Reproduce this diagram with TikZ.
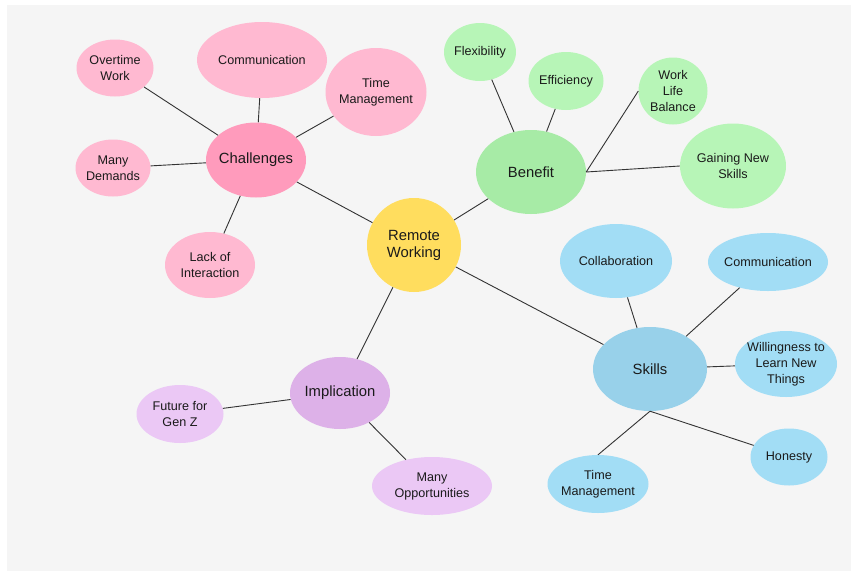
\documentclass[tikz,border=0pt]{standalone}
\usepackage{fontspec}
\setmainfont{Liberation Sans}
\usetikzlibrary{shapes.geometric}
\definecolor{bgc}{HTML}{F5F5F5}
\definecolor{yel}{HTML}{FFDD5E}
\definecolor{pinkC}{HTML}{FF9BBC}
\definecolor{pinkL}{HTML}{FFB9D1}
\definecolor{greenC}{HTML}{A7EBA6}
\definecolor{greenL}{HTML}{B7F5B7}
\definecolor{blueC}{HTML}{98D1EA}
\definecolor{blueL}{HTML}{A2DDF5}
\definecolor{purpC}{HTML}{DDB1E8}
\definecolor{purpL}{HTML}{EBC8F5}
\definecolor{txt}{HTML}{1A1A1A}
\definecolor{lnc}{HTML}{333333}
\tikzset{
  bub/.style={ellipse, draw=none, inner sep=0pt},
  leaftxt/.style={align=center, text=txt, font=\fontsize{12.6}{16}\selectfont},
  hubtxt/.style={align=center, text=txt, font=\fontsize{14.8}{17}\selectfont},
  conn/.style={draw=lnc, line width=0.9pt},
}
\begin{document}
\begin{tikzpicture}[x=1pt,y=-1pt]
\useasboundingbox (0,0) rectangle (851,571);
\fill[white] (0,0) rectangle (851,571);
\fill[bgc] (7,5) rectangle (851,571);

% hubs
\node[bub, fill=yel, minimum width=94, minimum height=94, label={[hubtxt]center:Remote\\Working}] (rw) at (414,245) {};
\node[bub, fill=pinkC, minimum width=100, minimum height=75, label={[hubtxt]center:Challenges}] (ch) at (256,160) {};
\node[bub, fill=greenC, minimum width=110, minimum height=84, label={[hubtxt]center:Benefit}] (be) at (531,172) {};
\node[bub, fill=blueC, minimum width=114, minimum height=84, label={[hubtxt]center:Skills}] (sk) at (650,369) {};
\node[bub, fill=purpC, minimum width=100, minimum height=72, label={[hubtxt]center:Implication}] (im) at (340,393) {};

% challenges leaves
\node[bub, fill=pinkL, minimum width=77, minimum height=57, label={[leaftxt]center:Overtime\\Work}] (ot) at (115,68) {};
\node[bub, fill=pinkL, minimum width=130, minimum height=76, label={[leaftxt]center:Communication}] (cm1) at (262,60) {};
\node[bub, fill=pinkL, minimum width=101, minimum height=88, label={[leaftxt]center:Time\\Management}] (tm1) at (376,92) {};
\node[bub, fill=pinkL, minimum width=75, minimum height=57, label={[leaftxt]center:Many\\Demands}] (md) at (113,168) {};
\node[bub, fill=pinkL, minimum width=90, minimum height=66, label={[leaftxt]center:Lack of\\Interaction}] (li) at (210,265) {};

% benefit leaves
\node[bub, fill=greenL, minimum width=72, minimum height=58, label={[leaftxt]center:Flexibility}] (fl) at (480,52) {};
\node[bub, fill=greenL, minimum width=75, minimum height=58, label={[leaftxt]center:Efficiency}] (ef) at (566,81) {};
\node[bub, fill=greenL, minimum width=69, minimum height=67, label={[leaftxt]center:Work\\Life\\Balance}] (wl) at (673,91) {};
\node[bub, fill=greenL, minimum width=106, minimum height=85, label={[leaftxt]center:Gaining New\\Skills}] (gn) at (733,166) {};

% skills leaves
\node[bub, fill=blueL, minimum width=112, minimum height=74, label={[leaftxt]center:Collaboration}] (co) at (616,261) {};
\node[bub, fill=blueL, minimum width=120, minimum height=58, label={[leaftxt]center:Communication}] (cm2) at (768,262) {};
\node[bub, fill=blueL, minimum width=102, minimum height=66, label={[leaftxt]center:Willingness to\\Learn New\\Things}] (wi) at (786,364) {};
\node[bub, fill=blueL, minimum width=77, minimum height=57, label={[leaftxt]center:Honesty}] (ho) at (789,457) {};
\node[bub, fill=blueL, minimum width=101, minimum height=58, label={[leaftxt]center:Time\\Management}] (tm2) at (598,484) {};

% implication leaves
\node[bub, fill=purpL, minimum width=87, minimum height=58, label={[leaftxt]center:Future for\\Gen Z}] (fg) at (180,414) {};
\node[bub, fill=purpL, minimum width=120, minimum height=58, label={[leaftxt]center:Many\\Opportunities}] (mo) at (432,486) {};

% connectors
\draw[conn] (rw) -- (ch);
\draw[conn] (rw) -- (be);
\draw[conn] (rw) -- (sk);
\draw[conn] (rw) -- (im);

\draw[conn] (ch) -- (ot);
\draw[conn] (ch) -- (cm1);
\draw[conn] (ch) -- (tm1);
\draw[conn] (ch) -- (md);
\draw[conn] (ch) -- (li);

\draw[conn] (be) -- (fl);
\draw[conn] (be) -- (ef);
\draw[conn] (be.east) -- (wl.west);
\draw[conn] (be.east) -- (gn.west);

\draw[conn] (sk) -- (co);
\draw[conn] (sk) -- (cm2);
\draw[conn] (sk) -- (wi);
\draw[conn] (sk.south) -- (ho);
\draw[conn] (sk.south) -- (tm2.north);

\draw[conn] (im) -- (fg);
\draw[conn] (im) -- (mo);
\end{tikzpicture}
\end{document}
